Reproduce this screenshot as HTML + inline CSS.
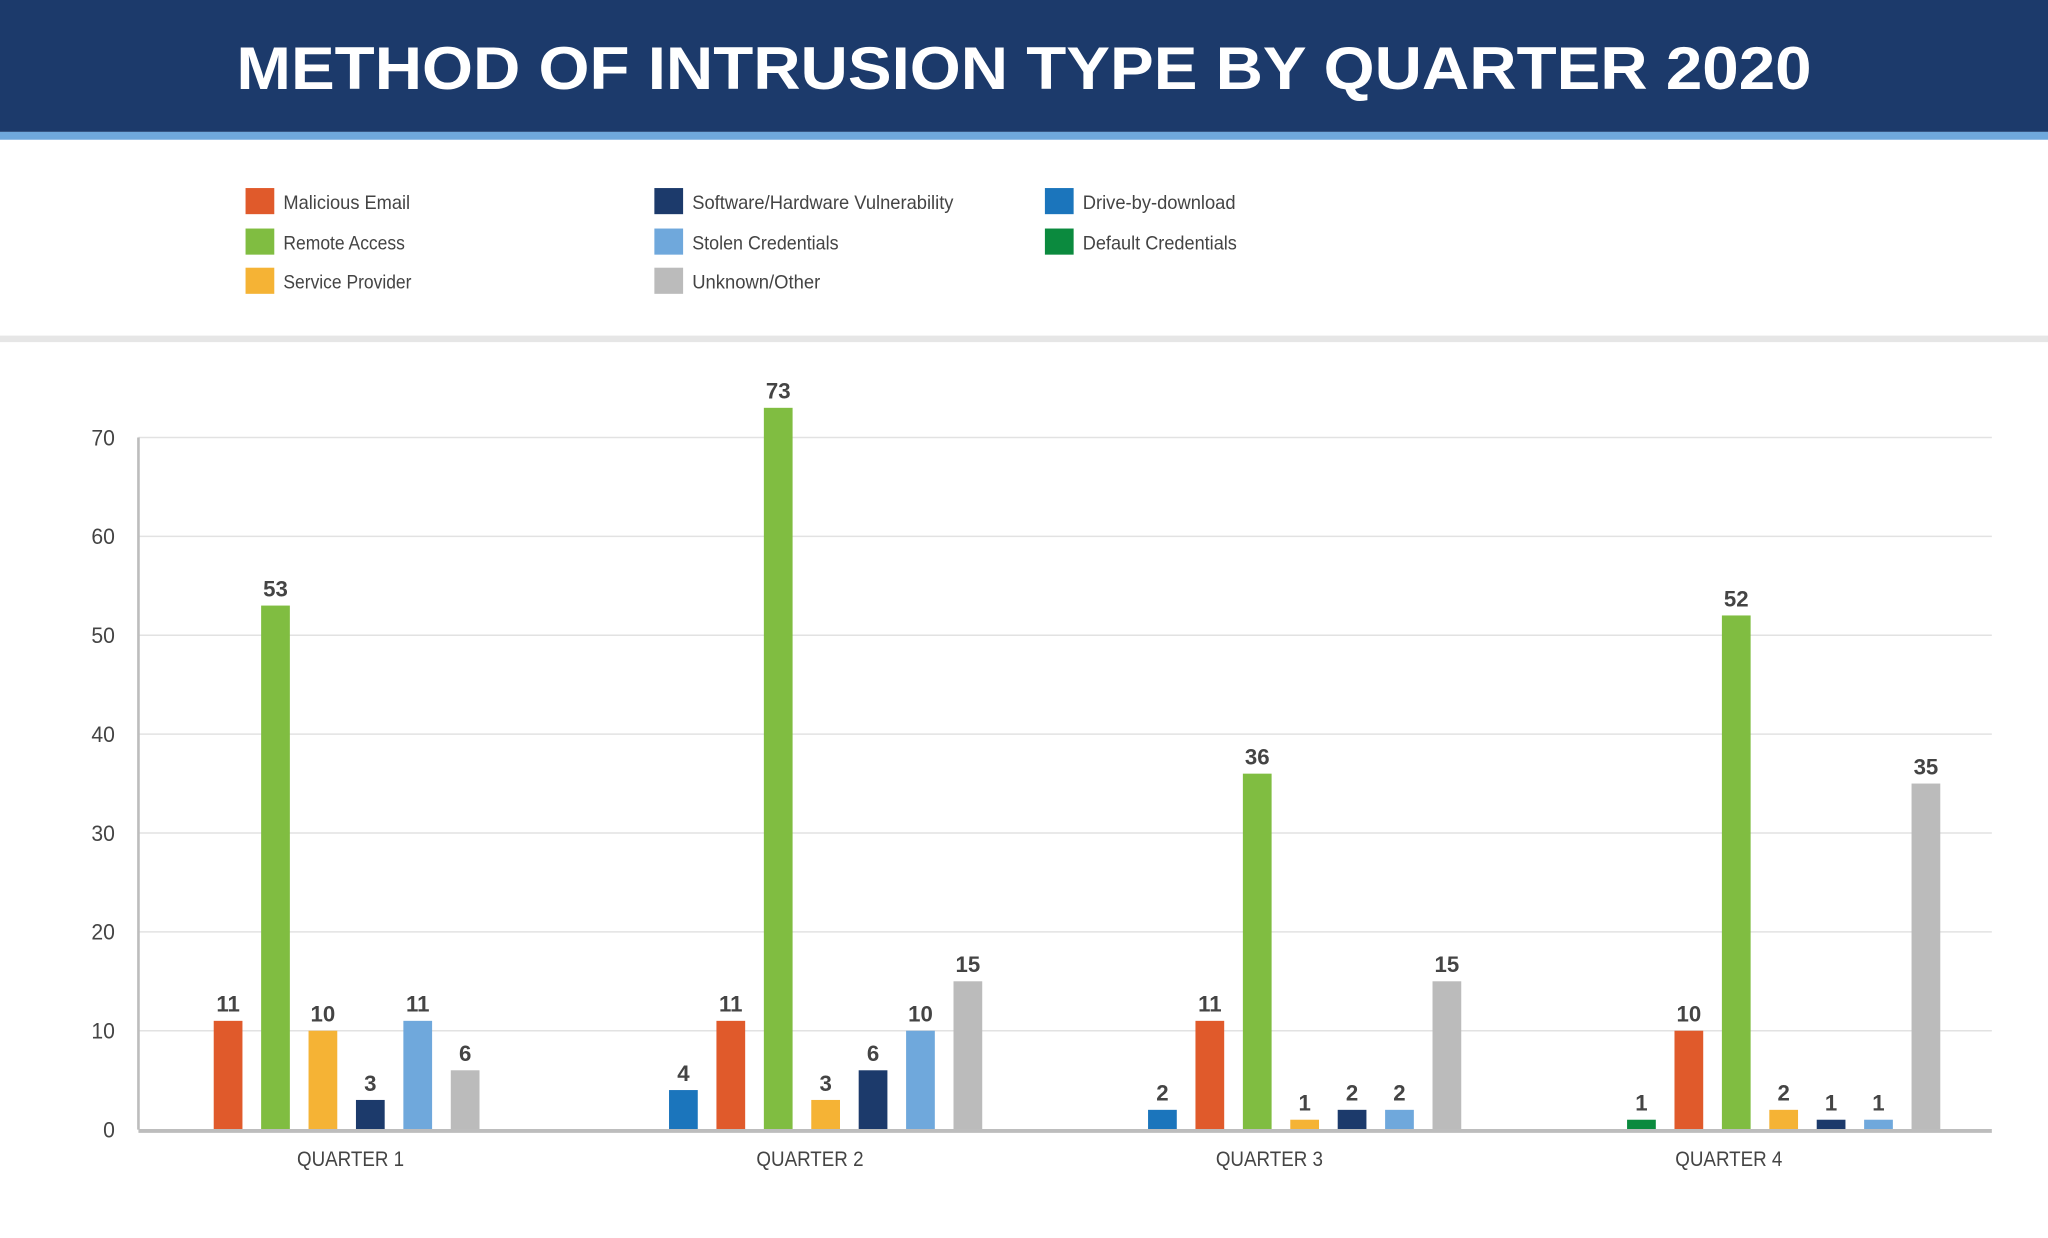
<!DOCTYPE html>
<html><head><meta charset="utf-8"><style>
html,body{margin:0;padding:0;background:#fff;}
svg{display:block;}
text{font-family:"Liberation Sans",sans-serif;}
</style></head><body>
<svg id="chart" width="2048" height="1238" viewBox="0 0 1568 948" preserveAspectRatio="none" xmlns="http://www.w3.org/2000/svg">
<rect x="0" y="0" width="1568" height="101" fill="#1c3a6b"/>
<rect x="0" y="101" width="1568" height="6" fill="#6fa8dc"/>
<text x="784" y="68" text-anchor="middle" fill="#fff" font-size="46" font-weight="bold" textLength="1206" lengthAdjust="spacingAndGlyphs">METHOD OF INTRUSION TYPE BY QUARTER 2020</text>
<rect x="0" y="257" width="1568" height="5" fill="#e6e6e6"/>
<g id="legend"></g>
<g id="grid"></g>
<g id="bars"></g>
</svg>
<script>
const categories = ["QUARTER 1","QUARTER 2","QUARTER 3","QUARTER 4"];
const seriesNames = ["Drive-by-download","Default Credentials","Malicious Email","Remote Access","Service Provider","Software/Hardware Vulnerability","Stolen Credentials","Unknown/Other"];
const driveBy   = [0,4,2,0];
const defaultCr = [0,0,0,1];
const malicious = [11,11,11,10];
const remote    = [53,73,36,52];
const service   = [10,3,1,2];
const software  = [3,6,2,1];
const stolen    = [11,10,2,1];
const unknown   = [6,15,15,35];
const yTicks = [0,10,20,30,40,50,60,70];

const seriesValues = [driveBy, defaultCr, malicious, remote, service, software, stolen, unknown];
const colors = ["#1b75bc","#0b8a3e","#e05a2b","#80bd41","#f5b335","#1c3a6b","#6fa8dc","#bbbbbb"];
const NS = "http://www.w3.org/2000/svg";
function mk(tag, attrs, parent){const e=document.createElementNS(NS,tag);for(const k in attrs)e.setAttribute(k,attrs[k]);parent.appendChild(e);return e;}

const x0=106, x1=1525, yBase=865, yTop=335, yMax=70;
const y = v => yBase - (v/yMax)*(yBase-yTop);
const band = (x1-x0)/categories.length;
const bandX = i => x0 + band*i;
const step = 36.3, bw = 22;

const legendOrder = [
 [2,188,154,97],[3,188,185,93],[4,188,215,98],
 [5,501,154,200],[6,501,185,112],[7,501,215,98],
 [0,800,154,117],[1,800,185,118]];
const lg = document.getElementById('legend');
legendOrder.forEach(([s,lx,ly,tw])=>{
  const sw = mk('rect',{x:lx,y:ly-10,width:22,height:20,fill:colors[s]},lg);
  
  
  const t = mk('text',{x:lx+29,y:ly+6,'font-size':15,fill:'#444',textLength:tw,lengthAdjust:'spacingAndGlyphs'},lg);
  t.textContent = seriesNames[s];
  
  
});

const g = document.getElementById('grid');
yTicks.forEach(v=>{
  if(v>0){const l=mk('line',{x1:x0,x2:x1,y1:y(v),y2:y(v),stroke:'#e2e2e2','stroke-width':1.2},g);
  
  }
  const t=mk('text',{x:88,y:y(v)+6,'text-anchor':'end','font-size':17,fill:'#444',textLength:String(v).length*9,lengthAdjust:'spacingAndGlyphs'},g);
  t.textContent=v;
  
  
});
const ya=mk('line',{x1:x0,x2:x0,y1:yTop,y2:yBase,stroke:'#bdbdbd','stroke-width':2},g);


categories.forEach((c,i)=>{
  const t=mk('text',{x:bandX(i)+band/2-15-i*3,y:893,'text-anchor':'middle','font-size':16,fill:'#444',textLength:82,lengthAdjust:'spacingAndGlyphs'},g);
  t.textContent=c;
  
  
});

const bg=document.getElementById('bars');
categories.forEach((c,i)=>{
  const present = seriesValues.map((arr,s)=>[s,arr[i]]).filter(d=>d[1]>0);
  const n=present.length;
  const center = bandX(i)+band/2 - 18 + i*12;
  present.forEach(([s,v],k)=>{
    const cx = center + (k-(n-1)/2)*step;
    const r=mk('rect',{x:cx-bw/2,y:y(v),width:bw,height:yBase-y(v),fill:colors[s]},bg);
    
    
    const t=mk('text',{x:cx,y:y(v)-7,'text-anchor':'middle','font-size':17,'font-weight':'bold',fill:'#444'},bg);
    t.textContent=v;
    
    
  });
});
const xa=mk('line',{x1:x0,x2:x1,y1:yBase+1,y2:yBase+1,stroke:'#bdbdbd','stroke-width':3},bg);


</script>
</body></html>
